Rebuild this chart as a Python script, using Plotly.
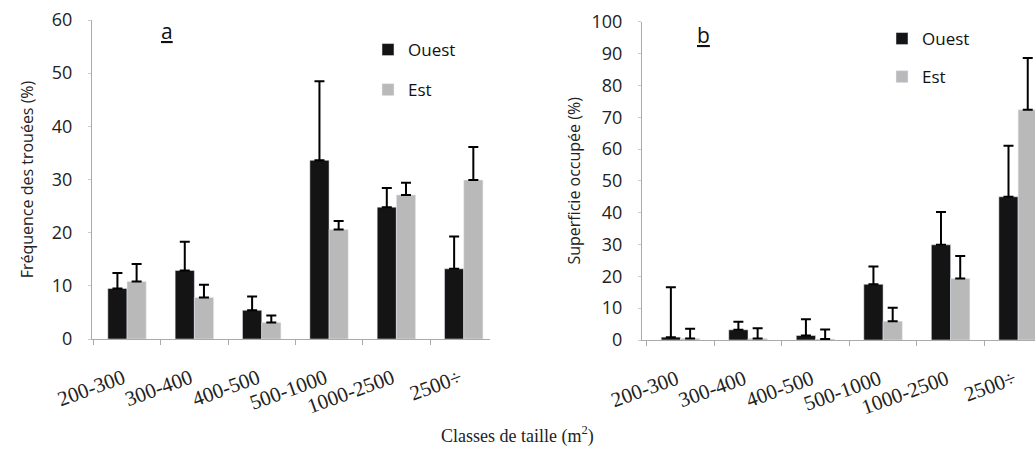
import plotly.graph_objects as go

categories = ["200-300", "300-400", "400-500", "500-1000", "1000-2500", "2500+"]
tick_labels = ["200-300", "300-400", "400-500", "500-1000", "1000-2500", "2500÷"]

# Panel a: frequency of gaps (%)
freq_ouest = [9.5, 12.9, 5.4, 33.6, 24.8, 13.2]
freq_ouest_err_top = [12.4, 18.3, 8.0, 48.5, 28.4, 19.3]
freq_est = [10.8, 7.8, 3.1, 20.6, 27.1, 29.9]
freq_est_err_top = [14.1, 10.2, 4.4, 22.2, 29.4, 36.1]

# Panel b: occupied area (%)
area_ouest = [0.9, 3.2, 1.4, 17.5, 29.9, 45.0]
area_ouest_err_top = [16.6, 5.7, 6.5, 23.1, 40.2, 61.0]
area_est = [0.5, 0.5, 0.3, 5.9, 19.3, 72.3]
area_est_err_top = [3.5, 3.7, 3.3, 10.1, 26.4, 88.6]

BLACK = "#141414"
GRAY = "#b9b9b9"
SANS = "Open Sans"
SERIF = "Liberation Serif"


def up_err(vals, tops):
    return dict(type="data", symmetric=False,
                array=[t - v for v, t in zip(vals, tops)],
                arrayminus=[0] * len(vals),
                color="black", thickness=2, width=5)


fig = go.Figure()
fig.add_trace(go.Bar(x=categories, y=freq_ouest, name="Ouest", marker_color=BLACK,
                     error_y=up_err(freq_ouest, freq_ouest_err_top),
                     xaxis="x", yaxis="y", legend="legend", legendgroup="o1"))
fig.add_trace(go.Bar(x=categories, y=freq_est, name="Est", marker_color=GRAY,
                     error_y=up_err(freq_est, freq_est_err_top),
                     xaxis="x", yaxis="y", legend="legend", legendgroup="e1"))
fig.add_trace(go.Bar(x=categories, y=area_ouest, name="Ouest", marker_color=BLACK,
                     error_y=up_err(area_ouest, area_ouest_err_top),
                     xaxis="x2", yaxis="y2", legend="legend2", legendgroup="o2"))
fig.add_trace(go.Bar(x=categories, y=area_est, name="Est", marker_color=GRAY,
                     error_y=up_err(area_est, area_est_err_top),
                     xaxis="x2", yaxis="y2", legend="legend2", legendgroup="e2"))

W, H = 1035, 450

xcommon = dict(type="category", categoryorder="array", categoryarray=categories,
               tickvals=categories, ticktext=tick_labels, tickangle=-20,
               tickfont=dict(family=SERIF, size=21, color="#222"),
               showline=True, linecolor="#aaaaaa", linewidth=1,
               ticks="outside", ticklen=5, tickcolor="#aaaaaa", tickson="boundaries",
               showgrid=False, zeroline=False, ticklabelstandoff=18,
               ticklabelshift=-4, automargin=False)
ycommon = dict(showline=True, linecolor="#aaaaaa", linewidth=1, showgrid=False,
               zeroline=False, ticks="outside", ticklen=3, tickcolor="#cccccc",
               tickfont=dict(family=SANS, size=18, color="#222"),
               ticklabelstandoff=12, automargin=False)

fig.update_layout(
    width=W, height=H,
    margin=dict(l=0, r=0, t=0, b=0, pad=0, autoexpand=False),
    paper_bgcolor="white", plot_bgcolor="white",
    barmode="group", bargap=0.43, bargroupgap=0,
    xaxis=dict(xcommon, domain=[92 / W, 490 / W], range=[-0.52, 5.39], anchor="y"),
    yaxis=dict(ycommon, domain=[1 - 339 / H, 1 - 20 / H], range=[0, 60], dtick=10,
               anchor="x",
               title=dict(text="Fréquence des trouées (%)", standoff=14,
                          font=dict(family=SANS, size=16, color="#222"))),
    xaxis2=dict(xcommon, domain=[642 / W, 1.0], range=[-0.57, 5.25], anchor="y2"),
    yaxis2=dict(ycommon, domain=[1 - 340 / H, 1 - 21.7 / H], range=[0, 100], dtick=10,
                anchor="x2",
                title=dict(text="Superficie occupée (%)", standoff=6,
                           font=dict(family=SANS, size=16, color="#222"))),
    legend=dict(x=368 / W, y=1 - 32 / H, xanchor="left", yanchor="top",
                font=dict(family=SANS, size=17, color="#111"),
                tracegroupgap=15, bgcolor="rgba(0,0,0,0)"),
    legend2=dict(x=882 / W, y=1 - 21 / H, xanchor="left", yanchor="top",
                 font=dict(family=SANS, size=17, color="#111"),
                 tracegroupgap=13, bgcolor="rgba(0,0,0,0)"),
    annotations=[
        dict(text="<u>a</u>", x=167 / W, y=1 - 31 / H, xref="paper", yref="paper",
             xanchor="center", yanchor="middle",
             showarrow=False, font=dict(family=SANS, size=21, color="#111")),
        dict(text="<u>b</u>", x=703 / W, y=1 - 35 / H, xref="paper", yref="paper",
             xanchor="center", yanchor="middle",
             showarrow=False, font=dict(family=SANS, size=21, color="#111")),
        dict(text="Classes de taille (m<sup>2</sup>)", x=517 / W, y=1 - 435 / H,
             xref="paper", yref="paper", xanchor="center", yanchor="middle",
             showarrow=False, font=dict(family=SERIF, size=18, color="#222")),
    ],
)

fig.write_html("out.html")
